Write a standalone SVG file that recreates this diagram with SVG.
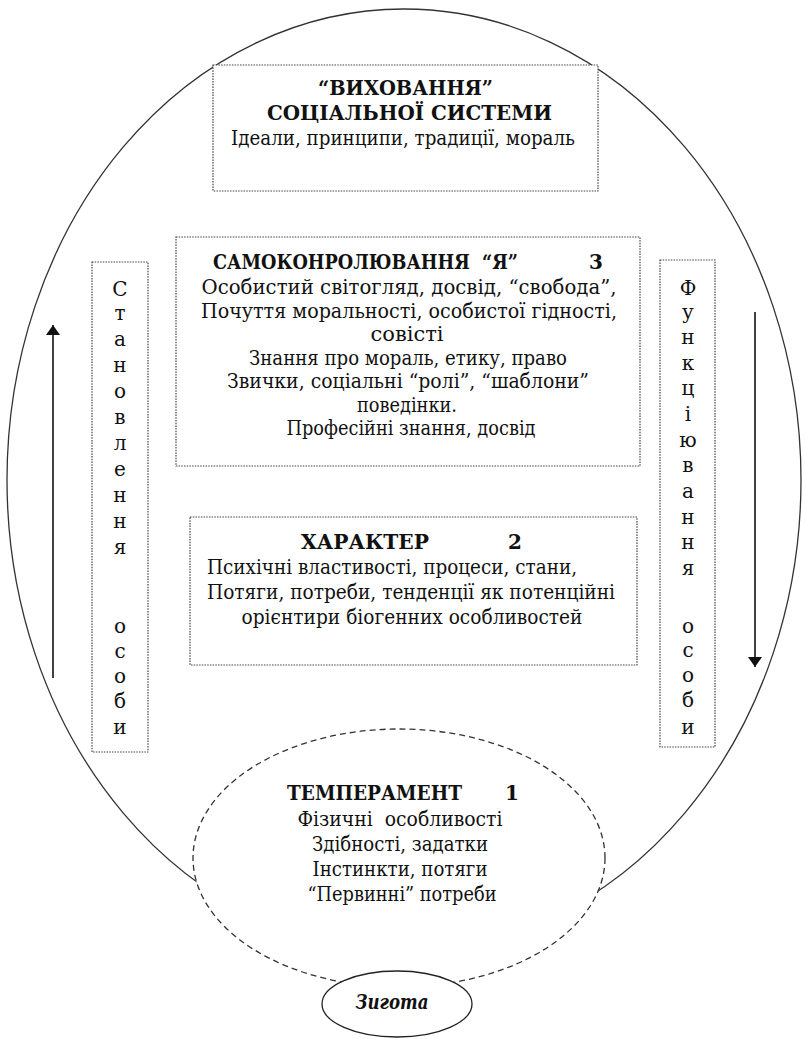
<svg xmlns="http://www.w3.org/2000/svg" width="805" height="1039" viewBox="0 0 805 1039">
<style>
  text { font-family: "DejaVu Serif", "Liberation Serif", serif; font-size: 20px; fill: #111; }
  .b { font-weight: bold; }
  .c { text-anchor: middle; }
  .box { fill: #fff; stroke: #444; stroke-width: 1.2; stroke-dasharray: 1.5 1.2; }
  .outer { fill: none; stroke: #333; stroke-width: 1.3; }
  .arrow { stroke: #111; stroke-width: 1.6; fill: none; marker-end: url(#ah); }
</style>
<defs>
  <marker id="ah" viewBox="0 0 10 14" refX="10" refY="7" markerWidth="10" markerHeight="14" markerUnits="userSpaceOnUse" orient="auto">
    <path d="M0,0 L10,7 L0,14 Z" fill="#111"/>
  </marker>
</defs>
<rect width="805" height="1039" fill="#fff"/>

<g id="outer-ellipse">
  <ellipse class="outer" cx="404" cy="480" rx="397" ry="471"/>
</g>

<g id="connectors">
  <line class="arrow" x1="53" y1="678" x2="53" y2="325"/>
  <line class="arrow" x1="755" y1="312" x2="755" y2="667"/>
</g>

<g id="node-social">
  <rect class="box" x="213" y="65" width="385" height="126"/>
  <text class="b" x="318" y="95" textLength="175" lengthAdjust="spacingAndGlyphs">“ВИХОВАННЯ”</text>
  <text class="b" x="267" y="120" textLength="285" lengthAdjust="spacingAndGlyphs">СОЦІАЛЬНОЇ СИСТЕМИ</text>
  <text class="c" x="403" y="145" textLength="344" lengthAdjust="spacingAndGlyphs">Ідеали, принципи, традиції, мораль</text>
</g>

<g id="node-self">
  <rect class="box" x="176" y="237" width="464" height="229"/>
  <text class="b" x="213" y="269" font-size="19" textLength="305" lengthAdjust="spacingAndGlyphs" xml:space="preserve">САМОКОНРОЛЮВАННЯ  “Я”</text>
  <text class="b" x="589" y="269">3</text>
  <text class="c" x="409" y="294" textLength="415" lengthAdjust="spacingAndGlyphs">Особистий світогляд, досвід, “свобода”,</text>
  <text class="c" x="409" y="317.5" textLength="416" lengthAdjust="spacingAndGlyphs">Почуття моральності, особистої гідності,</text>
  <text class="c" x="407" y="341" textLength="73" lengthAdjust="spacingAndGlyphs">совісті</text>
  <text class="c" x="408" y="364.5" textLength="318" lengthAdjust="spacingAndGlyphs">Знання про мораль, етику, право</text>
  <text class="c" x="408" y="388" textLength="362" lengthAdjust="spacingAndGlyphs">Звички, соціальні “ролі”, “шаблони”</text>
  <text class="c" x="407" y="411.5" textLength="100" lengthAdjust="spacingAndGlyphs">поведінки.</text>
  <text class="c" x="411" y="435" textLength="249" lengthAdjust="spacingAndGlyphs">Професійні знання, досвід</text>
</g>

<g id="node-character">
  <rect class="box" x="190" y="517" width="447" height="148"/>
  <text class="b" x="301" y="549" textLength="128" lengthAdjust="spacingAndGlyphs">ХАРАКТЕР</text>
  <text class="b" x="508" y="549">2</text>
  <text x="207" y="574" textLength="370" lengthAdjust="spacingAndGlyphs">Психічні властивості, процеси, стани,</text>
  <text x="207" y="599" textLength="408" lengthAdjust="spacingAndGlyphs">Потяги, потреби, тенденції як потенційні</text>
  <text class="c" x="412" y="624" textLength="341" lengthAdjust="spacingAndGlyphs">орієнтири біогенних особливостей</text>
</g>

<g id="node-formation">
  <rect class="box" x="92" y="262" width="56" height="490"/>
  <text class="c" x="120" y="296">С</text>
  <text class="c" x="120" y="320">т</text>
  <text class="c" x="120" y="346">а</text>
  <text class="c" x="120" y="372">н</text>
  <text class="c" x="120" y="398">о</text>
  <text class="c" x="120" y="424">в</text>
  <text class="c" x="120" y="450">л</text>
  <text class="c" x="120" y="476">е</text>
  <text class="c" x="120" y="502">н</text>
  <text class="c" x="120" y="528">н</text>
  <text class="c" x="120" y="554">я</text>
  <text class="c" x="120" y="633">о</text>
  <text class="c" x="120" y="658">с</text>
  <text class="c" x="120" y="683">о</text>
  <text class="c" x="120" y="708">б</text>
  <text class="c" x="120" y="734">и</text>
</g>

<g id="node-functioning">
  <rect class="box" x="660" y="260" width="55" height="487"/>
  <text class="c" x="688" y="295">Ф</text>
  <text class="c" x="688" y="319">у</text>
  <text class="c" x="688" y="344">н</text>
  <text class="c" x="688" y="370">к</text>
  <text class="c" x="688" y="395">ц</text>
  <text class="c" x="688" y="421">і</text>
  <text class="c" x="688" y="447">ю</text>
  <text class="c" x="688" y="472">в</text>
  <text class="c" x="688" y="498">а</text>
  <text class="c" x="688" y="524">н</text>
  <text class="c" x="688" y="549">н</text>
  <text class="c" x="688" y="575">я</text>
  <text class="c" x="688" y="633">о</text>
  <text class="c" x="688" y="657">с</text>
  <text class="c" x="688" y="682">о</text>
  <text class="c" x="688" y="707">б</text>
  <text class="c" x="688" y="734">и</text>
</g>

<g id="node-temperament">
  <ellipse cx="399" cy="858" rx="206" ry="129" fill="#fff" stroke="#333" stroke-width="1.3" stroke-dasharray="6 4"/>
  <text class="b" x="287" y="800" textLength="175" lengthAdjust="spacingAndGlyphs">ТЕМПЕРАМЕНТ</text>
  <text class="b" x="505" y="800">1</text>
  <text class="c" x="400" y="826" textLength="205" lengthAdjust="spacingAndGlyphs" xml:space="preserve">Фізичні  особливості</text>
  <text class="c" x="400" y="851" textLength="176" lengthAdjust="spacingAndGlyphs">Здібності, задатки</text>
  <text class="c" x="400" y="876" textLength="175" lengthAdjust="spacingAndGlyphs">Інстинкти, потяги</text>
  <text class="c" x="402" y="901" textLength="189" lengthAdjust="spacingAndGlyphs">“Первинні” потреби</text>
</g>

<g id="node-zygote">
  <ellipse cx="397" cy="1004" rx="75" ry="33" fill="#fff" stroke="#222" stroke-width="1.3"/>
  <text class="b c" x="392" y="1009" font-style="italic" textLength="73" lengthAdjust="spacingAndGlyphs">Зигота</text>
</g>
</svg>
